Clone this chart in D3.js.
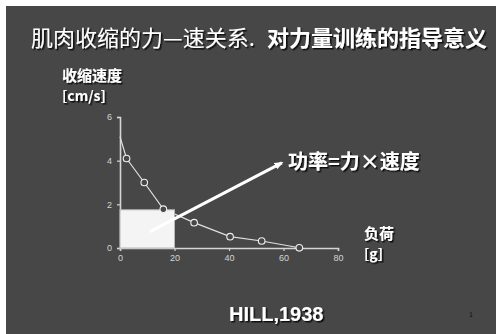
<!DOCTYPE html>
<html>
<head>
<meta charset="utf-8">
<script src="https://cdn.jsdelivr.net/npm/d3@7/dist/d3.min.js"></script>
<style>
  html, body { margin: 0; padding: 0; background: #ffffff; }
  svg { display: block; }
  text { font-family: "Noto Sans CJK SC", "DejaVu Sans", sans-serif; }
</style>
</head>
<body>
<script>
// Hill (1938): load (g) against shortening velocity (cm/s)
const loads      = [0, 2.4, 8.9, 15.9, 27.2, 40.4, 52, 65.8];
const velocities = [5.1, 4.1, 3.0, 1.78, 1.16, 0.52, 0.32, 0.01];
const marked     = [false, true, true, true, true, true, true, true];
const xTicks = [0, 20, 40, 60, 80];
const yTicks = [0, 2, 4, 6];
// power = force x velocity, shown as the shaded area
const powerLoad = 20;
const powerVelocity = 1.75;
// annotation arrow, in data units
const arrowFrom = [11, 0.75];
const arrowTo   = [59.4, 3.9];

const W = 496, H = 334;
const svg = d3.select("body").append("svg").attr("width", W).attr("height", H);
const defs = svg.append("defs");

// dark drop shadow used by the slide text
defs.append("filter").attr("id", "shadow")
  .attr("x", "-5%").attr("y", "-20%").attr("width", "115%").attr("height", "150%")
  .append("feDropShadow").attr("dx", 1.5).attr("dy", 1.5).attr("stdDeviation", 0.3)
  .attr("flood-color", "#0d0d0d").attr("flood-opacity", 1);

// slide background
svg.append("rect").attr("x", 6).attr("y", 6).attr("width", W - 6).attr("height", H - 6)
  .attr("fill", "#474747");

const x = d3.scaleLinear().domain([0, 80]).range([120, 338]);
const y = d3.scaleLinear().domain([0, 6]).range([248, 117]);

const axisColor = "#d6d6d6";

// x axis
const gx = svg.append("g").attr("transform", `translate(0,${y(0)})`)
  .call(d3.axisBottom(x).tickValues(xTicks).tickFormat(d3.format("d")).tickSize(3).tickPadding(4));
// y axis
const gy = svg.append("g").attr("transform", `translate(${x(0)},0)`)
  .call(d3.axisLeft(y).tickValues(yTicks).tickFormat(d3.format("d")).tickSize(3).tickPadding(5));
[gx, gy].forEach(g => {
  g.select(".domain").attr("stroke", axisColor).attr("stroke-width", 1.6);
  g.selectAll(".tick line").attr("stroke", axisColor).attr("stroke-width", 1.2);
  g.selectAll(".tick text").attr("fill", "#d4d4d4")
    .style("font-family", "'Liberation Sans', Arial, sans-serif").style("font-size", "9px");
});

// force-velocity curve
const pts = loads.map((l, i) => ({ l, v: velocities[i], m: marked[i] }));
svg.append("path").datum(pts)
  .attr("fill", "none").attr("stroke", "#e0e0e0").attr("stroke-width", 1.2)
  .attr("d", d3.line().x(d => x(d.l)).y(d => y(d.v)));

// power rectangle
svg.append("rect")
  .attr("x", x(0)).attr("y", y(powerVelocity))
  .attr("width", x(powerLoad) - x(0)).attr("height", y(0) - y(powerVelocity))
  .attr("fill", "#f4f4f4").attr("stroke", "#b8b8b8").attr("stroke-width", 1);

// data points
svg.selectAll("circle.pt").data(pts.filter(d => d.m)).join("circle")
  .attr("class", "pt")
  .attr("cx", d => x(d.l)).attr("cy", d => y(d.v)).attr("r", 3.3)
  .attr("fill", "#474747").attr("stroke", "#f0f0f0").attr("stroke-width", 1.1);

// arrow to the power label
defs.append("marker")
  .attr("id", "head").attr("viewBox", "0 0 10 10").attr("refX", 8).attr("refY", 5)
  .attr("markerWidth", 3).attr("markerHeight", 3).attr("orient", "auto")
  .append("path").attr("d", "M0,1 L10,5 L0,9 Z").attr("fill", "#ffffff");
svg.append("line")
  .attr("x1", x(arrowFrom[0])).attr("y1", y(arrowFrom[1]))
  .attr("x2", x(arrowTo[0])).attr("y2", y(arrowTo[1]))
  .attr("stroke", "#ffffff").attr("stroke-width", 3).attr("marker-end", "url(#head)");

// white text with a dark drop shadow
function shadowText(px, py, str, size, weight, family) {
  const t = svg.append("text").attr("x", px).attr("y", py)
    .attr("fill", "#ffffff").attr("font-size", size).attr("font-weight", weight)
    .attr("filter", "url(#shadow)").text(str);
  if (family) t.style("font-family", family);
  return t;
}

// title
shadowText(31, 46, "肌肉收缩的力—速关系.", 22, 400);
shadowText(267, 46, "对力量训练的指导意义", 22, 700);

// axis titles
shadowText(62, 81, "收缩速度", 15, 700);
shadowText(62, 101, "[cm/s]", 14, 700);
shadowText(364, 239, "负荷", 15, 700);
shadowText(364, 259, "[g]", 14, 700);

// power label
shadowText(288, 169, "功率=力×速度", 20, 700);

// citation
shadowText(229, 321, "HILL,1938", 20, 700, "'Liberation Sans', Arial, sans-serif");

// page mark
svg.append("text").attr("x", 469).attr("y", 317).attr("fill", "#111111")
  .attr("font-size", 7).text("1");
</script>
</body>
</html>
